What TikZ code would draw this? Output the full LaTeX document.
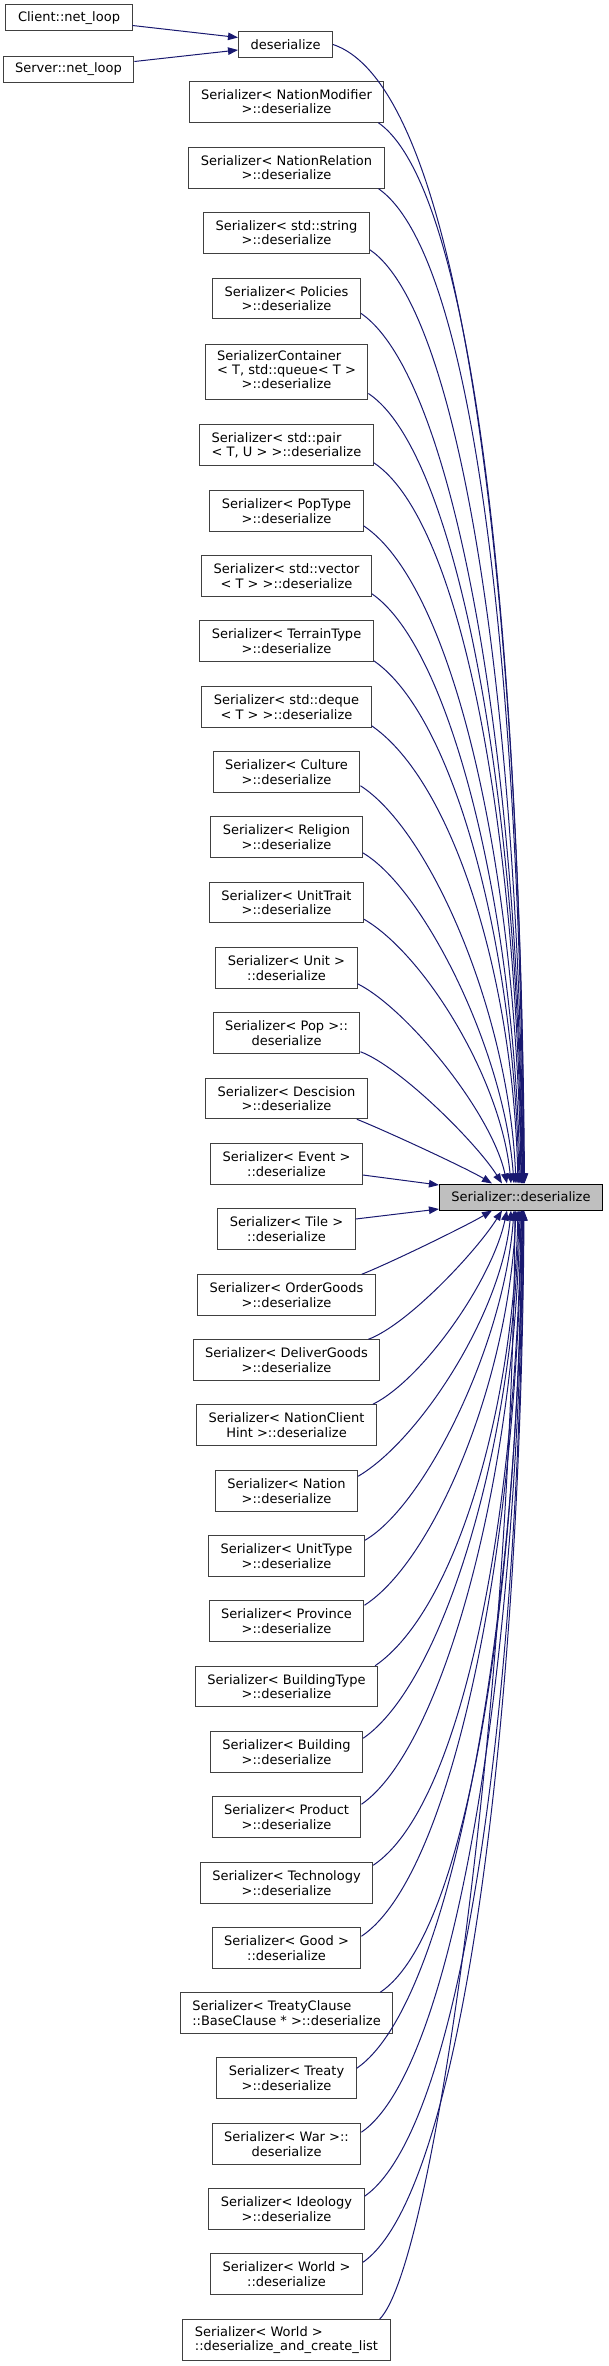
\documentclass[tikz,border=0pt]{standalone}
\usepackage{fontspec}
\setmainfont{DejaVu Sans}
\definecolor{dgblue}{RGB}{25,25,112}
\definecolor{dggray}{RGB}{191,191,191}
\definecolor{dgline}{RGB}{64,64,64}
\usetikzlibrary{arrows.meta,calc}

\begin{document}
\begin{tikzpicture}[x=1pt, y=-1pt,
  fnbox/.style={draw=dgline, line width=1pt, inner xsep=12pt, inner ysep=2pt, minimum height=40.5pt, align=center, font=\fontsize{13}{14.3}\selectfont},
  fnone/.style={fnbox, minimum height=26pt},
  fnmain/.style={fnone, draw=black, fill=dggray},
  call/.style={draw=dgblue, line width=1pt, -{Triangle[length=10pt,width=7.5pt]}}]
  \useasboundingbox (0,0) rectangle (608,2366);

  \node[fnone]  (cl)  at (69,18)      {Client::net\_loop};
  \node[fnone]  (sv)  at (68.5,69.5)  {Server::net\_loop};
  \node[fnone]  (dsr) at (285.5,44.5) {deserialize};
  \node[fnmain] (tgt) at (521,1197)   {Serializer::deserialize};

  \node[fnbox] (nm)    at (286.5,102)   {Serializer< NationModifier\\>::deserialize};
  \node[fnbox] (nr)    at (286.5,168)   {Serializer< NationRelation\\>::deserialize};
  \node[fnbox] (str)   at (286.5,233)   {Serializer< std::string\\>::deserialize};
  \node[fnbox] (pol)   at (286.5,298.5) {Serializer< Policies\\>::deserialize};
  \node[fnbox, minimum height=55pt] (cont) at (286.5,371.5) {\begin{tabular}{@{}l@{}}SerializerContainer\\< T, std::queue< T >\\\multicolumn{1}{@{}c@{}}{>::deserialize}\end{tabular}};
  \node[fnbox, align=left] (pair) at (286.5,445) {Serializer< std::pair\\< T, U > >::deserialize};
  \node[fnbox] (popt)  at (286.5,511)   {Serializer< PopType\\>::deserialize};
  \node[fnbox] (vec)   at (286.5,576)   {Serializer< std::vector\\< T > >::deserialize};
  \node[fnbox] (terr)  at (286.5,641)   {Serializer< TerrainType\\>::deserialize};
  \node[fnbox] (deq)   at (286.5,707)   {Serializer< std::deque\\< T > >::deserialize};
  \node[fnbox] (cult)  at (286.5,772)   {Serializer< Culture\\>::deserialize};
  \node[fnbox] (rel)   at (286.5,837)   {Serializer< Religion\\>::deserialize};
  \node[fnbox] (utr)   at (286.5,902.5) {Serializer< UnitTrait\\>::deserialize};
  \node[fnbox] (unit)  at (286.5,968)   {Serializer< Unit >\\::deserialize};
  \node[fnbox] (pop)   at (286.5,1033)  {Serializer< Pop >::\\deserialize};
  \node[fnbox] (desc)  at (286.5,1098.5){Serializer< Descision\\>::deserialize};
  \node[fnbox] (ev)    at (286.5,1164)  {Serializer< Event >\\::deserialize};
  \node[fnbox] (tile)  at (286.5,1229)  {Serializer< Tile >\\::deserialize};
  \node[fnbox] (og)    at (286.5,1295)  {Serializer< OrderGoods\\>::deserialize};
  \node[fnbox] (dg)    at (286.5,1360)  {Serializer< DeliverGoods\\>::deserialize};
  \node[fnbox] (nch)   at (286.5,1425)  {Serializer< NationClient\\Hint >::deserialize};
  \node[fnbox] (nat)   at (286.5,1491)  {Serializer< Nation\\>::deserialize};
  \node[fnbox] (utype) at (286.5,1556)  {Serializer< UnitType\\>::deserialize};
  \node[fnbox] (prov)  at (286.5,1621)  {Serializer< Province\\>::deserialize};
  \node[fnbox] (btype) at (286.5,1686.5){Serializer< BuildingType\\>::deserialize};
  \node[fnbox] (bld)   at (286.5,1752)  {Serializer< Building\\>::deserialize};
  \node[fnbox] (prod)  at (286.5,1817)  {Serializer< Product\\>::deserialize};
  \node[fnbox] (tech)  at (286.5,1883)  {Serializer< Technology\\>::deserialize};
  \node[fnbox] (good)  at (286.5,1948)  {Serializer< Good >\\::deserialize};
  \node[fnbox, align=left] (tcl) at (286.5,2013) {Serializer< TreatyClause\\::BaseClause * >::deserialize};
  \node[fnbox] (treaty) at (286.5,2078) {Serializer< Treaty\\>::deserialize};
  \node[fnbox] (war)   at (286.5,2144)  {Serializer< War >::\\deserialize};
  \node[fnbox] (ideo)  at (286.5,2209)  {Serializer< Ideology\\>::deserialize};
  \node[fnbox] (world) at (286.5,2274)  {Serializer< World >\\::deserialize};
  \node[fnbox, align=left] (wl) at (286.5,2340) {Serializer< World >\\::deserialize\_and\_create\_list};

  \draw[call] ($(cl.east)+(0,7.5)$) -- ($(dsr.west)+(0,-7)$);
  \draw[call] ($(sv.east)+(0,-8)$) -- ($(dsr.west)+(0,5.5)$);

  \draw[call] (dsr.east) .. controls +(135,45) and +(-4,-560) .. ($(tgt.north)+(3.5,0)$);
  \draw[call] ($(nm.south east)+(-6,0)$) .. controls +(100,70) and +(-3,-510) .. ($(tgt.north)+(3,0)$);
  \draw[call] ($(nr.south east)+(-6,0)$) .. controls +(100,70) and +(-3,-480) .. ($(tgt.north)+(2.5,0)$);
  \draw[call] ($(str.south east)+(0,-4)$) .. controls +(95,65) and +(-3,-450) .. ($(tgt.north)+(2,0)$);
  \draw[call] ($(pol.south east)+(0,-6)$) .. controls +(95,65) and +(-3,-420) .. ($(tgt.north)+(1.5,0)$);
  \draw[call] ($(cont.south east)+(0,-6)$) .. controls +(90,60) and +(-3,-380) .. ($(tgt.north)+(1,0)$);
  \draw[call] ($(pair.south east)+(0,-3)$) .. controls +(90,60) and +(-4,-345) .. ($(tgt.north)+(0.5,0)$);
  \draw[call] ($(popt.south east)+(0,-6)$) .. controls +(90,60) and +(-4,-315) .. ($(tgt.north)+(0,0)$);
  \draw[call] ($(vec.south east)+(0,-3)$) .. controls +(80,55) and +(-5,-270) .. ($(tgt.north)+(-1,0)$);
  \draw[call] ($(terr.south east)+(0,-1)$) .. controls +(80,55) and +(-5,-240) .. ($(tgt.north)+(-2,0)$);
  \draw[call] ($(deq.south east)+(0,-2)$) .. controls +(80,55) and +(-5,-210) .. ($(tgt.north)+(-3,0)$);
  \draw[call] ($(cult.south east)+(0,-7)$) .. controls +(70,45) and +(-7,-170) .. ($(tgt.north)+(-5,0)$);
  \draw[call] ($(rel.south east)+(0,-5)$) .. controls +(60,35) and +(-10,-135) .. ($(tgt.north)+(-7,0)$);
  \draw[call] ($(utr.south east)+(0,-4)$) .. controls +(60,35) and +(-10,-105) .. ($(tgt.north)+(-10,0)$);
  \draw[call] ($(unit.south east)+(0,-5)$) .. controls +(50,25) and +(-15,-70) .. ($(tgt.north)+(-14,0)$);
  \draw[call] ($(pop.south east)+(0,-2)$) .. controls +(40,15) and +(-25,-40) .. ($(tgt.north)+(-19,0)$);
  \draw[call] ($(desc.south east)+(-11,0)$) .. controls +(30,12) and +(-25,-15) .. ($(tgt.north)+(-29,0)$);
  \draw[call] ($(ev.east)+(0,11)$) -- ($(tgt.west)+(0,-12)$);

  \draw[call] ($(tile.east)+(0,-10)$) -- ($(tgt.west)+(0,12)$);
  \draw[call] ($(og.north east)+(-14,0)$) .. controls +(30,-12) and +(-25,15) .. ($(tgt.south)+(-29,0)$);
  \draw[call] ($(dg.north east)+(-12,0)$) .. controls +(40,-15) and +(-25,40) .. ($(tgt.south)+(-19,0)$);
  \draw[call] ($(nch.north east)+(-4,0)$) .. controls +(50,-25) and +(-15,70) .. ($(tgt.south)+(-14,0)$);
  \draw[call] ($(nat.north east)+(0,6)$) .. controls +(60,-35) and +(-10,105) .. ($(tgt.south)+(-10,0)$);
  \draw[call] ($(utype.north east)+(0,5)$) .. controls +(60,-35) and +(-10,135) .. ($(tgt.south)+(-7,0)$);
  \draw[call] ($(prov.north east)+(0,5)$) .. controls +(70,-45) and +(-7,170) .. ($(tgt.south)+(-5,0)$);
  \draw[call] ($(btype.north east)+(-3,0)$) .. controls +(80,-55) and +(-5,200) .. ($(tgt.south)+(-3,0)$);
  \draw[call] ($(bld.north east)+(0,7)$) .. controls +(80,-55) and +(-5,235) .. ($(tgt.south)+(-2,0)$);
  \draw[call] ($(prod.north east)+(0,8)$) .. controls +(80,-55) and +(-5,270) .. ($(tgt.south)+(-1,0)$);
  \draw[call] ($(tech.north east)+(0,3)$) .. controls +(90,-60) and +(-4,300) .. ($(tgt.south)+(0,0)$);
  \draw[call] ($(good.north east)+(0,9)$) .. controls +(90,-60) and +(-4,340) .. ($(tgt.south)+(0.5,0)$);
  \draw[call] ($(tcl.north east)+(-13,0)$) .. controls +(90,-60) and +(-3,370) .. ($(tgt.south)+(1,0)$);
  \draw[call] ($(treaty.north east)+(0,11)$) .. controls +(95,-65) and +(-3,410) .. ($(tgt.south)+(1.5,0)$);
  \draw[call] ($(war.north east)+(0,9)$) .. controls +(95,-65) and +(-3,440) .. ($(tgt.south)+(2,0)$);
  \draw[call] ($(ideo.north east)+(0,8)$) .. controls +(100,-70) and +(-3,475) .. ($(tgt.south)+(2.5,0)$);
  \draw[call] ($(world.north east)+(0,9)$) .. controls +(100,-70) and +(-3,505) .. ($(tgt.south)+(3,0)$);
  \draw[call] ($(wl.north east)+(-11,0)$) .. controls +(55,-55) and +(-3,480) .. ($(tgt.south)+(-6,0)$);
\end{tikzpicture}
\end{document}
